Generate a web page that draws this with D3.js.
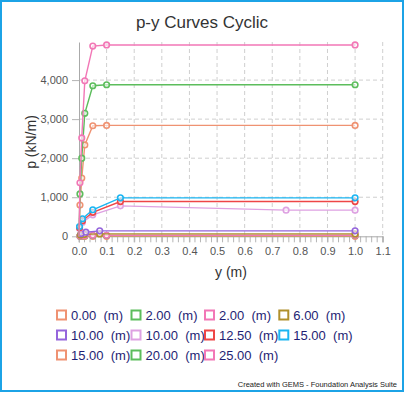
<!DOCTYPE html>
<html>
<head>
<meta charset="utf-8">
<script src="https://cdn.jsdelivr.net/npm/d3@7"></script>
<style>
  body { margin: 0; background: #fff; }
  svg { display: block; font-family: "Liberation Sans", Arial, sans-serif; }
  .legend text { white-space: pre; }
</style>
</head>
<body>
<div id="chart"></div>
<script>
// series labels (depth) and colours, in legend order
const depthLabels = ["0.00", "2.00", "2.00", "6.00", "10.00", "10.00", "12.50", "15.00", "15.00", "20.00", "25.00"];
const colors = ["#ef9272", "#5cbd5c", "#f277b6", "#b0902c", "#9565dc", "#dea1e2", "#ee4646", "#1ab5f2", "#ef9272", "#5cbd5c", "#f277b6"];

// deflection y (m) for each series
const yS0 = [0, 0.0035, 0.01, 0.021, 0.05, 0.1, 1.0];
const yS1 = [0, 0.0035, 0.01, 0.021, 0.05, 0.1, 1.0];
const yS2 = [0, 0.0035, 0.01, 0.021, 0.05, 0.1, 1.0];
const yS3 = [0, 0.005, 0.02, 0.075, 1.0];
const yS4 = [0, 0.008, 0.025, 0.075, 1.0];
const yS5 = [0, 0.002, 0.0125, 0.05, 0.15, 0.75, 1.0];
const yS6 = [0, 0.002, 0.0125, 0.05, 0.15, 1.0];
const yS7 = [0, 0.002, 0.0125, 0.05, 0.15, 1.0];
const yS8 = [0, 0.0035, 0.01, 0.021, 0.05, 0.1, 1.0];
const yS9 = [0, 0.0035, 0.01, 0.021, 0.05, 0.1, 1.0];
const yS10 = [0, 0.0035, 0.01, 0.021, 0.05, 0.1, 1.0];

// soil resistance p (kN/m) for each series
const pS0 = [0, 0, 0, 0, 0, 0, 0];
const pS1 = [0, 6, 11, 17, 21, 21, 21];
const pS2 = [0, 8, 14, 22, 27, 27, 27];
const pS3 = [0, 35, 50, 62, 62];
const pS4 = [0, 70, 105, 140, 140];
const pS5 = [0, 200, 360, 550, 780, 670, 670];
const pS6 = [0, 220, 400, 615, 890, 890];
const pS7 = [0, 250, 450, 680, 985, 985];
const pS8 = [0, 800, 1490, 2340, 2830, 2840, 2840];
const pS9 = [0, 1085, 2000, 3150, 3855, 3880, 3880];
const pS10 = [0, 1370, 2520, 3980, 4870, 4900, 4900];

const xTicks = [0, 0.1, 0.2, 0.3, 0.4, 0.5, 0.6, 0.7, 0.8, 0.9, 1.0, 1.1];
const yTicks = [0, 1000, 2000, 3000, 4000];

const ys = [yS0, yS1, yS2, yS3, yS4, yS5, yS6, yS7, yS8, yS9, yS10];
const ps = [pS0, pS1, pS2, pS3, pS4, pS5, pS6, pS7, pS8, pS9, pS10];
const series = ys.map((arr, i) => arr.map((v, j) => ({x: v, p: ps[i][j]})));

const width = 404, height = 393;
const plotLeft = 79, plotRight = 382.7, plotTop = 42, plotBottom = 236.3;

const svg = d3.select("#chart").append("svg")
    .attr("width", width)
    .attr("height", height);

// frame
svg.append("rect")
    .attr("x", 1).attr("y", 1)
    .attr("width", width - 2).attr("height", height - 3)
    .attr("fill", "#fff")
    .attr("stroke", "#1ca3e6")
    .attr("stroke-width", 2);

const x = d3.scaleLinear().domain([0, 1.1]).range([plotLeft, plotRight]);
const y = d3.scaleLinear().domain([0, 4975]).range([plotBottom, plotTop]);

// grid
svg.append("g").selectAll("line")
    .data(yTicks.slice(1))
    .enter().append("line")
    .attr("x1", plotLeft).attr("x2", plotRight)
    .attr("y1", d => y(d)).attr("y2", d => y(d))
    .attr("stroke", "#cfcfcf")
    .attr("stroke-dasharray", "4,3");

svg.append("g").selectAll("line")
    .data(xTicks.slice(1))
    .enter().append("line")
    .attr("x1", d => x(d)).attr("x2", d => x(d))
    .attr("y1", plotTop).attr("y2", plotBottom)
    .attr("stroke", "#cfcfcf")
    .attr("stroke-dasharray", "4,3");

// x axis with minor ticks
const minor = d3.range(0, 1.1001, 0.02);
svg.append("g").selectAll("line")
    .data(minor)
    .enter().append("line")
    .attr("x1", d => x(d)).attr("x2", d => x(d))
    .attr("y1", plotBottom).attr("y2", plotBottom + 6)
    .attr("stroke", "#b5b5b5");

const xAxis = svg.append("g")
    .attr("transform", `translate(0,${plotBottom})`)
    .call(d3.axisBottom(x).tickValues(xTicks).tickFormat(d3.format(".1f")).tickSize(6).tickPadding(5));
xAxis.select(".domain").attr("stroke", "#aaa");
xAxis.selectAll(".tick line").attr("stroke", "#b5b5b5");
xAxis.selectAll("text").attr("fill", "#555").style("font-size", "11px");

const yAxis = svg.append("g")
    .attr("transform", `translate(${plotLeft},0)`)
    .call(d3.axisLeft(y).tickValues(yTicks).tickFormat(d3.format(",")).tickSize(7).tickPadding(4).tickSizeOuter(0));
yAxis.select(".domain").attr("stroke", "#aaa");
yAxis.selectAll(".tick line").attr("stroke", "#b5b5b5");
yAxis.selectAll("text").attr("fill", "#555").style("font-size", "11px");

// titles
svg.append("text")
    .attr("x", 202).attr("y", 28)
    .attr("text-anchor", "middle")
    .attr("fill", "#333")
    .style("font-size", "17px")
    .text("p-y Curves Cyclic");

svg.append("text")
    .attr("x", 231).attr("y", 277)
    .attr("text-anchor", "middle")
    .attr("fill", "#333")
    .style("font-size", "14px")
    .text("y (m)");

svg.append("text")
    .attr("transform", "translate(36,142) rotate(-90)")
    .attr("text-anchor", "middle")
    .attr("fill", "#333")
    .style("font-size", "14px")
    .text("p (kN/m)");

// lines + markers
const line = d3.line().x(d => x(d.x)).y(d => y(d.p));

series.forEach((s, i) => {
    const g = svg.append("g");
    g.append("path")
        .datum(s)
        .attr("d", line)
        .attr("fill", "none")
        .attr("stroke", colors[i])
        .attr("stroke-width", 1.4);
    g.selectAll("circle")
        .data(s.slice(1))
        .enter().append("circle")
        .attr("cx", d => x(d.x))
        .attr("cy", d => y(d.p))
        .attr("r", 2.8)
        .attr("fill", "#fff")
        .attr("fill-opacity", 0.6)
        .attr("stroke", colors[i])
        .attr("stroke-width", 1.6);
});

// legend
const legend = svg.append("g").attr("class", "legend");
const colX = [56, 130.5, 204, 278.3];
const rowY = [315, 335, 355];
depthLabels.forEach((lab, i) => {
    const cx = colX[i % 4], cy = rowY[Math.floor(i / 4)];
    legend.append("rect")
        .attr("x", cx + 1).attr("y", cy - 4.5)
        .attr("width", 9).attr("height", 9)
        .attr("fill", "#fff")
        .attr("stroke", colors[i])
        .attr("stroke-width", 2);
    legend.append("text")
        .attr("x", cx + 15).attr("y", cy + 4.5)
        .attr("fill", "#1e1e74")
        .style("font-size", "13px")
        .text(lab + "  (m)");
});

svg.append("text")
    .attr("x", 397).attr("y", 387)
    .attr("text-anchor", "end")
    .attr("fill", "#222")
    .style("font-size", "7.5px")
    .text("Created with GEMS - Foundation Analysis Suite");
</script>
</body>
</html>
